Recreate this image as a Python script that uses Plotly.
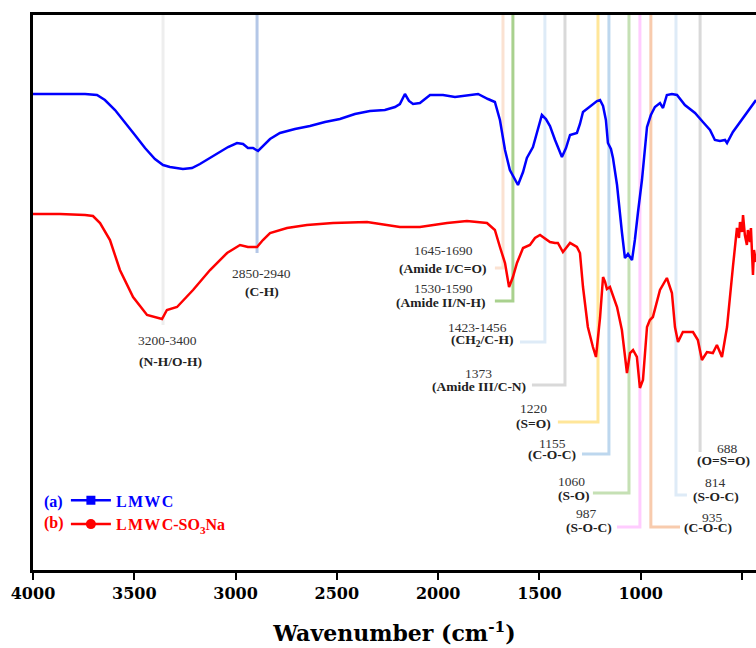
import plotly.graph_objects as go

# ---------------- data (wavenumber, transmittance in arbitrary units) ----------------
lmwc_wn = [4000, 3867, 3743, 3684, 3645, 3595, 3546, 3497, 3447, 3398,
           3358, 3324, 3260, 3215, 3176, 3102, 3037, 2993, 2963, 2939,
           2914, 2889, 2865, 2830, 2781, 2707, 2633, 2559, 2485, 2411,
           2337, 2263, 2213, 2189, 2164, 2144, 2124, 2090, 2040, 1976,
           1917, 1868, 1803, 1754, 1720, 1695, 1670, 1646, 1606, 1581,
           1562, 1532, 1507, 1488, 1468, 1448, 1423, 1389, 1369, 1349,
           1315, 1300, 1285, 1251, 1216, 1201, 1186, 1172, 1162, 1147,
           1137, 1117, 1103, 1093, 1078, 1063, 1043, 1029, 1014, 994,
           969, 950, 930, 915, 905, 890, 871, 846, 821, 782,
           732, 693, 658, 634, 609, 584, 574, 545, 510, 486,
           461, 431]
lmwc_t = [476, 476, 476, 475, 470, 460, 448, 435, 422, 411,
          405, 403, 401, 402, 406, 415, 423, 427, 426, 422,
          422, 419, 424, 431, 437, 441, 444, 448, 451, 456,
          459, 460, 463, 466, 476, 469, 466, 467, 475, 475,
          473, 474, 476, 471, 468, 450, 420, 400, 385, 398,
          412, 423, 442, 455, 451, 444, 430, 413, 422, 435,
          437, 446, 458, 463, 469, 470, 464, 450, 427, 421,
          412, 385, 355, 338, 312, 316, 310, 330, 357, 390,
          443, 455, 463, 466, 467, 462, 475, 476, 475, 465,
          457, 448, 440, 430, 429, 430, 427, 438, 448, 455,
          462, 470]

so3na_wn = [4000, 3867, 3743, 3704, 3669, 3645, 3620, 3571, 3506, 3437,
            3383, 3363, 3339, 3289, 3210, 3126, 3042, 2978, 2939, 2894,
            2865, 2830, 2746, 2648, 2519, 2351, 2189, 2090, 1956, 1858,
            1759, 1720, 1695, 1670, 1650, 1631, 1611, 1581, 1547, 1522,
            1497, 1473, 1448, 1423, 1409, 1384, 1364, 1349, 1315, 1300,
            1285, 1261, 1236, 1221, 1201, 1186, 1176, 1167, 1152, 1117,
            1093, 1068, 1053, 1038, 1019, 1004, 989, 969, 955, 940,
            905, 871, 846, 831, 816, 792, 742, 718, 698, 673,
            644, 624, 599, 574, 545, 535, 525, 515, 510, 500,
            495, 486, 476, 471, 461, 456, 446, 441, 431]
so3na_t = [356, 356, 355, 354, 347, 338, 330, 300, 273, 255,
           252, 251, 260, 263, 280, 300, 317, 325, 323, 323,
           330, 337, 342, 345, 347, 348, 343, 343, 347, 349,
           347, 340, 323, 307, 283, 293, 307, 322, 325, 332,
           335, 332, 328, 327, 327, 318, 323, 327, 323, 317,
           283, 243, 223, 213, 252, 293, 288, 281, 283, 263,
           240, 197, 217, 220, 213, 182, 190, 243, 250, 253,
           280, 292, 277, 243, 228, 238, 238, 230, 210, 218,
           217, 225, 213, 243, 303, 325, 342, 332, 348, 338,
           355, 335, 325, 340, 328, 342, 295, 320, 308]

# band marker lines: position, lower end, end of horizontal connector
band_pos = [3358, 2894, 1680, 1631, 1473, 1374, 1211, 1157, 1058, 1004, 950, 826, 707]
band_bottom = [245, 317, 302, 269, 228, 185, 148, 116, 77, 43, 43, 75, 118]
band_end = [3358, 2894, 1720, 1720, 1596, 1537, 1409, 1290, 1236, 1117, 806, 772, 707]
band_colors = ["#EEEEEE", "#B4C7E7", "#FBE2D2", "#A9D18E", "#DEEBF7", "#D9D9D9",
               "#FFE699", "#BDD7EE", "#C5E0B4", "#FFCCFF", "#F8CBAD", "#DEEBF7", "#D9D9D9"]

band_numbers = ["3200-3400", "2850-2940", "1645-1690", "1530-1590", "1423-1456", "1373",
                "1220", "1155", "1060", "987", "935", "814", "688"]
band_names = ["(N-H/O-H)", "(C-H)", "(Amide I/C=O)", "(Amide II/N-H)", "(CH<sub>2</sub>/C-H)",
              "(Amide III/C-N)", "(S=O)", "(C-O-C)", "(S-O)", "(S-O-C)", "(C-O-C)", "(S-O-C)", "(O=S=O)"]
# label placement (layout): x of number, y of number, x of name, y of name
num_xy = [(3334, 230), (2870, 297), (1976, 320), (1976, 282), (1808, 243), (1803, 197),
          (1527, 162), (1438, 127), (1340, 89), (1270, 57), (648, 53), (629, 88), (574, 122)]
name_xy = [(3319, 209), (2870, 279), (1976, 302), (1986, 268), (1784, 230), (1799, 184),
           (1527, 147), (1438, 116), (1330, 75), (1256, 43), (668, 43), (629, 74), (589, 110)]

x_ticks = [4000, 3500, 3000, 2500, 2000, 1500, 1000, 500]
TOP = 555

fig = go.Figure()

for p, b, e, c in zip(band_pos, band_bottom, band_end, band_colors):
    fig.add_trace(go.Scatter(x=[p, p, e], y=[TOP, b, b], mode="lines",
                             line=dict(color=c, width=3), showlegend=False, hoverinfo="skip"))

fig.add_trace(go.Scatter(x=lmwc_wn, y=lmwc_t, mode="lines", line=dict(color="#0000FF", width=2.5),
                         showlegend=False))
fig.add_trace(go.Scatter(x=so3na_wn, y=so3na_t, mode="lines", line=dict(color="#FF0000", width=2.5),
                         showlegend=False))

# legend entries
fig.add_trace(go.Scatter(x=[None], y=[None], mode="lines+markers",
                         line=dict(color="#0000FF", width=2.5),
                         marker=dict(symbol="square", size=9, color="#0000FF"),
                         name="<span style='color:#0000FF'>L\u200aM\u200aW\u200aC</span>"))
fig.add_trace(go.Scatter(x=[None], y=[None], mode="lines+markers",
                         line=dict(color="#FF0000", width=2.5),
                         marker=dict(symbol="circle", size=10, color="#FF0000"),
                         name="<span style='color:#FF0000'>L\u200aM\u200aW\u200aC-SO<sub>3</sub>Na</span>"))

annotations = []
for t, (x, y) in zip(band_numbers, num_xy):
    annotations.append(dict(x=x, y=y, xref="x", yref="y", text=t, showarrow=False,
                            font=dict(family="Liberation Serif", size=13.5, color="#333333")))
for t, (x, y) in zip(band_names, name_xy):
    annotations.append(dict(x=x, y=y, xref="x", yref="y", text="<b>" + t + "</b>", showarrow=False,
                            font=dict(family="Liberation Serif", size=13.5, color="#222222")))
annotations.append(dict(x=0.029, y=0.1225, xref="paper", yref="paper", text="<b>(a)</b>",
                        xanchor="center", yanchor="middle",
                        showarrow=False, font=dict(family="Liberation Serif", size=16, color="#0000FF")))
annotations.append(dict(x=0.029, y=0.0847, xref="paper", yref="paper", text="<b>(b)</b>",
                        xanchor="center", yanchor="middle",
                        showarrow=False, font=dict(family="Liberation Serif", size=16, color="#FF0000")))

fig.update_layout(
    width=756, height=648,
    margin=dict(l=33, r=0, t=15, b=78),
    plot_bgcolor="white", paper_bgcolor="white",
    annotations=annotations,
    showlegend=True,
    legend=dict(x=0.0455, y=0.156, xanchor="left", yanchor="top", bgcolor="rgba(0,0,0,0)",
                font=dict(family="Liberation Serif", size=16, weight="bold"),
                tracegroupgap=0, itemwidth=40),
    xaxis=dict(range=[4000, 431], tickvals=x_ticks, ticks="outside", ticklen=7, tickwidth=2,
               tickcolor="black", showline=True, linecolor="black", linewidth=2.5, mirror=True,
               showgrid=False, zeroline=False,
               tickfont=dict(family="DejaVu Serif", size=16, weight="bold", color="black"),
               title=dict(text="Wavenumber (cm<sup>-1</sup>)", standoff=24,
                          font=dict(family="DejaVu Serif", size=22, weight="bold", color="black"))),
    yaxis=dict(range=[0, TOP], showticklabels=False, ticks="", showline=True, linecolor="black",
               linewidth=2.5, mirror=False, showgrid=False, zeroline=False),
)

fig.write_html("out.html")
